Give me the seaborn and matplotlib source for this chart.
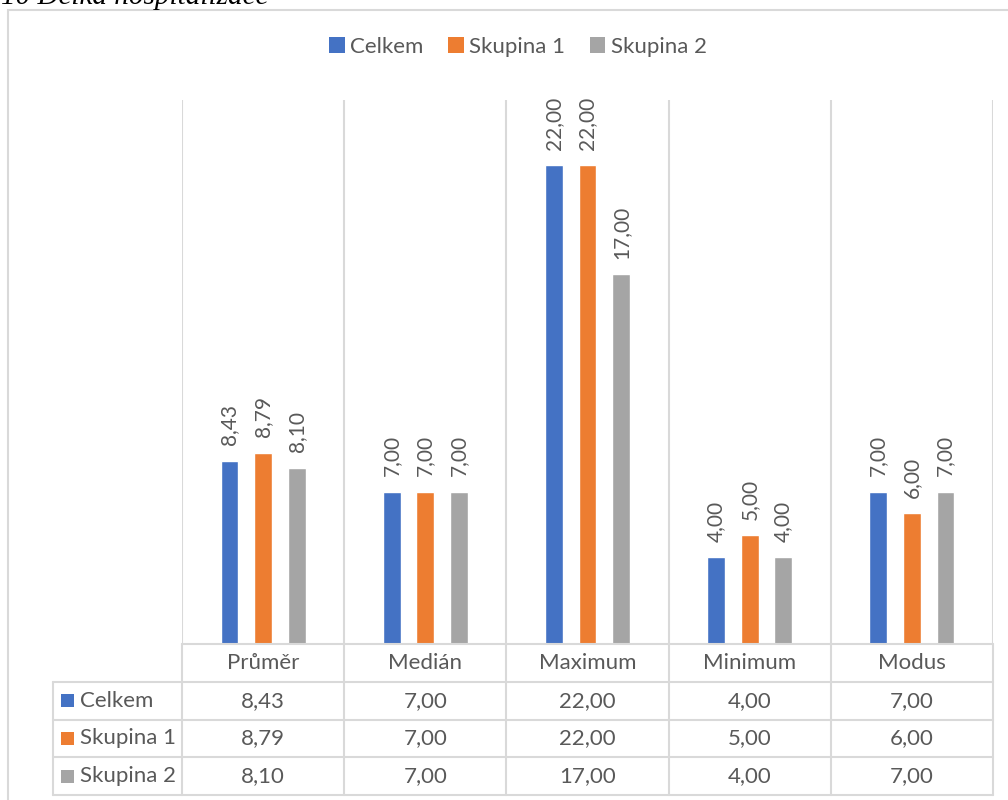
import matplotlib
matplotlib.use("Agg")
import matplotlib.pyplot as plt
from matplotlib.patches import Patch, Rectangle
import seaborn as sns
import pandas as pd

# ---- data ----
categories = ["Průměr", "Medián", "Maximum", "Minimum", "Modus"]
series_names = ["Celkem", "Skupina 1", "Skupina 2"]
celkem = [8.43, 7.00, 22.00, 4.00, 7.00]
skupina1 = [8.79, 7.00, 22.00, 5.00, 6.00]
skupina2 = [8.10, 7.00, 17.00, 4.00, 7.00]
colors = ["#4472C4", "#ED7D31", "#A5A5A5"]
title_text = "10 Délka hospitalizace"

values = [celkem, skupina1, skupina2]
rows = []
for s, vals in zip(series_names, values):
    for c, v in zip(categories, vals):
        rows.append({"cat": c, "series": s, "val": v})
df = pd.DataFrame(rows)

def fmt(v):
    return f"{v:.2f}".replace(".", ",")

sns.set_theme(style="white")
plt.rcParams["font.family"] = ["Lato", "DejaVu Sans"]
TXT = "#595959"
GRID = "#D9D9D9"
FS = 16
FS_LBL = 15

W, H = 1008, 800
fig = plt.figure(figsize=(W / 100, H / 100), dpi=100)

def fx(x):
    return x / W

def fy(y):
    return 1 - y / H

# outer frame
fig.patches.append(Rectangle((fx(8), fy(830)), fx(1040) - fx(8), fy(10) - fy(830),
                             transform=fig.transFigure, fill=False, edgecolor=GRID,
                             lw=1.5, clip_on=False))

# title (cut off at top, as in the reference)
fig.text(fx(1), fy(4), title_text, fontfamily="Liberation Serif", style="italic",
         fontsize=21, va="baseline", ha="left", color="black")

left, right, base, top = 182, 993, 644, 100
ax = fig.add_axes([fx(left), fy(base), fx(right) - fx(left), fy(top) - fy(base)])
sns.barplot(data=df, x="cat", y="val", hue="series", palette=colors,
            hue_order=series_names, order=categories,
            width=0.62, gap=0.47, ax=ax, legend=False, saturation=1)
ax.set_xlim(-0.5, len(categories) - 0.5)
ax.set_ylim(0, 25)
ax.set_xlabel("")
ax.set_ylabel("")
ax.set_xticks([])
ax.set_yticks([])
for sp in ax.spines.values():
    sp.set_visible(False)
for i in range(len(categories) + 1):
    ax.axvline(i - 0.5, color=GRID, lw=1.5, zorder=0)

for cont, vals in zip(ax.containers, values):
    ax.bar_label(cont, labels=[fmt(v) for v in vals], rotation=90, padding=11,
                 color=TXT, fontsize=FS_LBL)

# table axes
tleft, tbottom = 53, 795
cat_w = (right - left) / len(categories)
tx0 = -0.5 - (left - tleft) / cat_w
tax = fig.add_axes([fx(tleft), fy(tbottom), fx(right) - fx(tleft), fy(base) - fy(tbottom)])
tax.set_xlim(tx0, len(categories) - 0.5)
tax.set_ylim(4, 0)
tax.axis("off")

n = len(categories)
tax.plot([-0.5, n - 0.5], [0, 0], color=GRID, lw=1.5, clip_on=False)
for r in range(1, 5):
    tax.plot([tx0, n - 0.5], [r, r], color=GRID, lw=1.5, clip_on=False)
tax.plot([tx0, tx0], [1, 4], color=GRID, lw=1.5, clip_on=False)
for i in range(n + 1):
    tax.plot([i - 0.5, i - 0.5], [0, 4], color=GRID, lw=1.5, clip_on=False)

for i, c in enumerate(categories):
    tax.text(i, 0.5, c, ha="center", va="center", color=TXT, fontsize=FS)
for r, (s, vals, col) in enumerate(zip(series_names, values, colors)):
    y = r + 1.5
    tax.add_patch(Rectangle((tx0 + 8 / cat_w, y - 0.17), 13 / cat_w, 0.34,
                            facecolor=col, edgecolor="none"))
    tax.text(tx0 + 27 / cat_w, y, s, ha="left", va="center", color=TXT, fontsize=FS)
    for i, v in enumerate(vals):
        tax.text(i, y, fmt(v), ha="center", va="center", color=TXT, fontsize=FS)

# legend at top
handles = [Patch(facecolor=c, edgecolor="none", label=s) for s, c in zip(series_names, colors)]
fig.legend(handles=handles, loc="center", bbox_to_anchor=(fx(518), fy(47)), ncol=3,
           frameon=False, fontsize=FS, handlelength=0.7, handleheight=0.7,
           handletextpad=0.25, columnspacing=1.1, labelcolor=TXT)

fig.savefig("out.png", dpi=100)
